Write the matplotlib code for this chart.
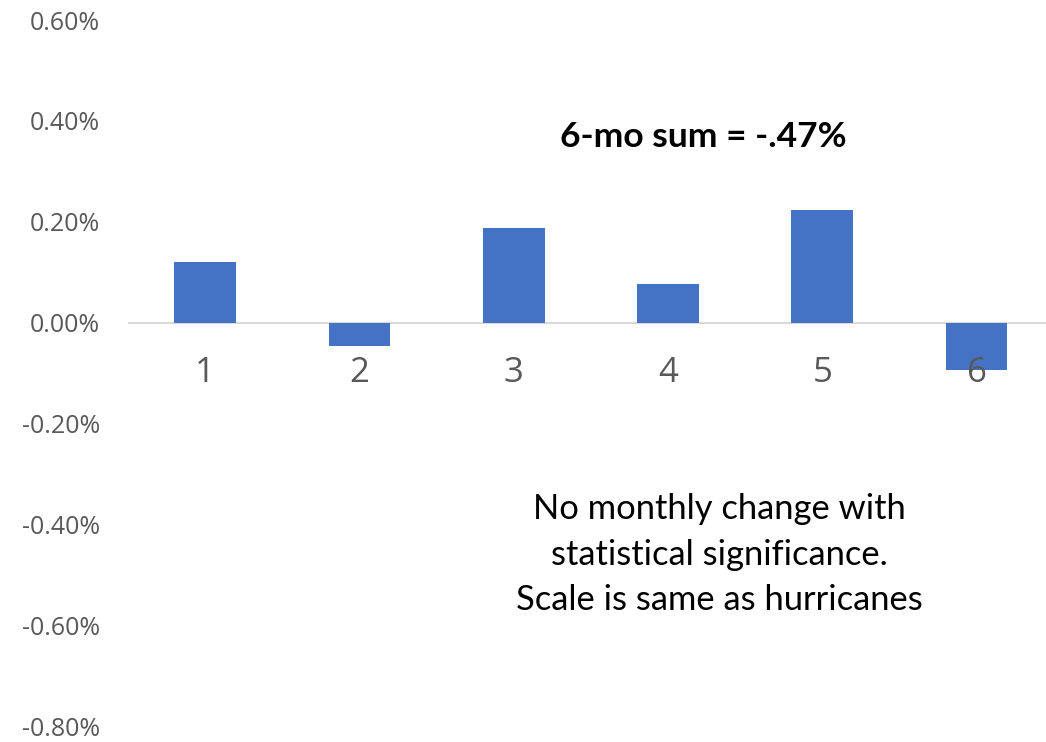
import numpy as np
import matplotlib.pyplot as plt
from matplotlib.ticker import FuncFormatter

months = ['1', '2', '3', '4', '5', '6']
changes = [0.120, -0.047, 0.187, 0.077, 0.223, -0.093]  # percent
y_ticks = [-0.8, -0.6, -0.4, -0.2, 0.0, 0.2, 0.4, 0.6]
sum_label = '6-mo sum = -.47%'
note = 'No monthly change with\nstatistical significance.\nScale is same as hurricanes'

fig = plt.figure(figsize=(10.46, 7.42), dpi=100)
ax = fig.add_axes([0.1224, 0.021, 0.885, 0.952])

x = np.arange(1, len(months) + 1)
ax.bar(x, changes, width=0.4, color='#4472C4', zorder=2)
ax.axhline(0, color='#D9D9D9', lw=1.5, zorder=1)

ax.set_xlim(0.5, 6.5)
ax.set_ylim(-0.8, 0.6)
ax.set_yticks(y_ticks)
ax.yaxis.set_major_formatter(FuncFormatter(lambda v, p: f'{v:.2f}%'))
ax.tick_params(axis='y', length=0, pad=20, labelsize=18, labelcolor='#595959')
for lab in ax.get_yticklabels():
    lab.set_fontfamily('Open Sans')

ax.set_xticks([])
for xi, m in zip(x, months):
    ax.text(xi, -0.1, m, ha='center', va='center', fontsize=25,
            color='#595959', family='Open Sans', zorder=3)

for s in ax.spines.values():
    s.set_visible(False)

ax.text(4.23, 0.369, sum_label, ha='center', va='center', fontsize=25.5,
        fontweight='bold', family='Lato', color='black')
ax.text(4.33, -0.46, note, ha='center', va='center', fontsize=24.8,
        family='Lato', color='black', linespacing=1.52)

fig.savefig('out.png', dpi=100)
